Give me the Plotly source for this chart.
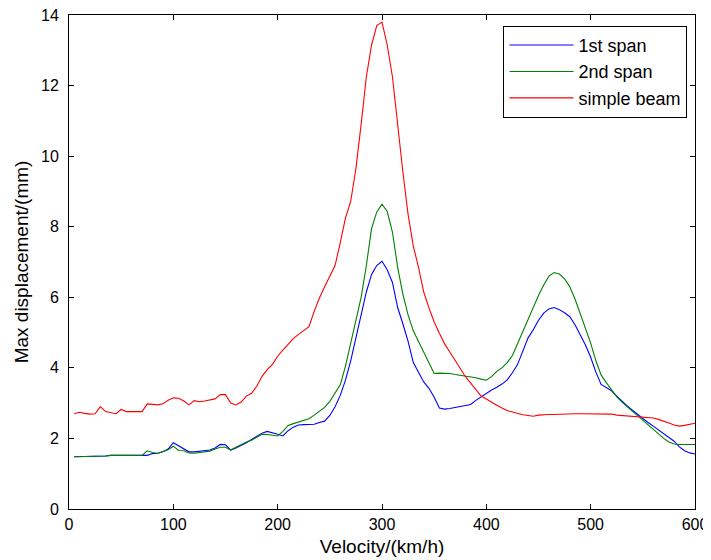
import plotly.graph_objects as go

velocity = list(range(5, 601, 5))

span1 = [1.48, 1.48, 1.48, 1.48, 1.50, 1.48, 1.50, 1.52, 1.52, 1.52,
         1.52, 1.52, 1.52, 1.52, 1.52, 1.57, 1.58, 1.62, 1.70, 1.88,
         1.80, 1.72, 1.62, 1.62, 1.64, 1.65, 1.67, 1.73, 1.83, 1.82,
         1.67, 1.73, 1.80, 1.88, 1.97, 2.05, 2.15, 2.20, 2.17, 2.12,
         2.07, 2.22, 2.32, 2.38, 2.39, 2.39, 2.40, 2.45, 2.49, 2.65,
         2.90, 3.22, 3.65, 4.20, 4.85, 5.50, 6.15, 6.65, 6.90, 7.02,
         6.78, 6.42, 5.71, 5.25, 4.75, 4.15, 3.88, 3.60, 3.42, 3.17,
         2.86, 2.83, 2.85, 2.88, 2.90, 2.93, 2.96, 3.08, 3.18, 3.28,
         3.37, 3.45, 3.54, 3.66, 3.86, 4.10, 4.50, 4.85, 5.08, 5.35,
         5.55, 5.67, 5.71, 5.65, 5.56, 5.45, 5.22, 4.95, 4.65, 4.30,
         3.88, 3.53, 3.45, 3.35, 3.20, 3.05, 2.92, 2.80, 2.68, 2.55,
         2.45, 2.35, 2.24, 2.12, 2.02, 1.92, 1.76, 1.65, 1.59, 1.56]

span2 = [1.48, 1.48, 1.48, 1.48, 1.48, 1.50, 1.50, 1.52, 1.52, 1.52,
         1.52, 1.52, 1.52, 1.52, 1.65, 1.60, 1.58, 1.62, 1.68, 1.78,
         1.66, 1.65, 1.59, 1.58, 1.60, 1.62, 1.64, 1.70, 1.75, 1.75,
         1.67, 1.75, 1.83, 1.90, 1.95, 2.03, 2.12, 2.11, 2.08, 2.07,
         2.20, 2.37, 2.42, 2.46, 2.50, 2.56, 2.66, 2.77, 2.88, 3.05,
         3.30, 3.52, 4.05, 4.70, 5.35, 6.00, 6.90, 7.95, 8.42, 8.64,
         8.43, 7.85, 6.85, 6.09, 5.50, 5.05, 4.75, 4.45, 4.15, 3.84,
         3.85, 3.85, 3.84, 3.81, 3.79, 3.77, 3.76, 3.72, 3.68, 3.65,
         3.75, 3.90, 4.00, 4.15, 4.35, 4.70, 5.00, 5.35, 5.70, 6.05,
         6.35, 6.60, 6.70, 6.66, 6.52, 6.30, 5.95, 5.55, 5.15, 4.70,
         4.20, 3.80, 3.58, 3.38, 3.18, 3.03, 2.90, 2.78, 2.65, 2.52,
         2.38, 2.25, 2.12, 2.00, 1.90, 1.84, 1.83, 1.83, 1.83, 1.83]

simple_beam = [2.70, 2.74, 2.71, 2.69, 2.70, 2.90, 2.76, 2.74, 2.70, 2.82,
               2.76, 2.76, 2.76, 2.76, 2.98, 2.97, 2.95, 2.98, 3.08, 3.15,
               3.14, 3.06, 2.95, 3.07, 3.04, 3.06, 3.08, 3.12, 3.24, 3.24,
               3.00, 2.95, 3.03, 3.20, 3.28, 3.48, 3.76, 3.95, 4.10, 4.33,
               4.50, 4.68, 4.83, 4.95, 5.06, 5.17, 5.60, 5.98, 6.30, 6.60,
               6.90, 7.55, 8.25, 8.72, 9.65, 10.90, 12.25, 13.15, 13.70, 13.80,
               13.15, 12.25, 10.85, 9.55, 8.35, 7.45, 6.85, 6.15, 5.70, 5.30,
               4.98, 4.68, 4.45, 4.22, 3.98, 3.75, 3.57, 3.38, 3.20, 3.12,
               3.02, 2.94, 2.86, 2.79, 2.75, 2.70, 2.67, 2.65, 2.63, 2.66,
               2.68, 2.68, 2.68, 2.69, 2.70, 2.70, 2.70, 2.70, 2.70, 2.70,
               2.70, 2.70, 2.70, 2.69, 2.66, 2.65, 2.65, 2.64, 2.63, 2.62,
               2.60, 2.58, 2.54, 2.50, 2.44, 2.38, 2.35, 2.37, 2.40, 2.43]

series_names = ["1st span", "2nd span", "simple beam"]
series_colors = ["#0000FF", "#008000", "#FF0000"]
x_ticks = [0, 100, 200, 300, 400, 500, 600]
y_ticks = [0, 2, 4, 6, 8, 10, 12, 14]

FONT = "Liberation Sans, Arial, sans-serif"

fig = go.Figure()
for name, vals, col in zip(series_names, [span1, span2, simple_beam], series_colors):
    fig.add_trace(go.Scatter(x=velocity, y=vals, mode="lines", name=name,
                             legendgroup=name,
                             line=dict(color=col, width=1.1)))

axis_common = dict(showline=True, linecolor="black", linewidth=1, mirror="ticks",
                   ticks="inside", ticklen=5, tickcolor="black", showgrid=False,
                   zeroline=False, automargin=False, ticklabeloverflow="allow",
                   tickfont=dict(family=FONT, size=16, color="black"))

# page body has an 8px margin, so the figure is 703x552 with margins compensated
fig.update_layout(
    width=703, height=552,
    margin=dict(l=61, r=16, t=7, b=51),
    paper_bgcolor="white", plot_bgcolor="white",
    font=dict(family=FONT, size=16, color="black"),
    xaxis=dict(range=[0, 600], tickvals=x_ticks, ticklabelstandoff=1, **axis_common,
               title=dict(text="Velocity/(km/h)", font=dict(family=FONT, size=19), standoff=7)),
    yaxis=dict(range=[0, 14], tickvals=y_ticks, ticklabelstandoff=6, **axis_common,
               title=dict(text="Max displacement/(mm)", font=dict(family=FONT, size=19), standoff=7)),
    legend=dict(x=0.988, y=0.978, xanchor="right", yanchor="top",
                bordercolor="black", borderwidth=1, bgcolor="white",
                traceorder="grouped",
                font=dict(family=FONT, size=18), tracegroupgap=0, itemwidth=64),
    showlegend=True,
)

fig.write_html("out.html")
